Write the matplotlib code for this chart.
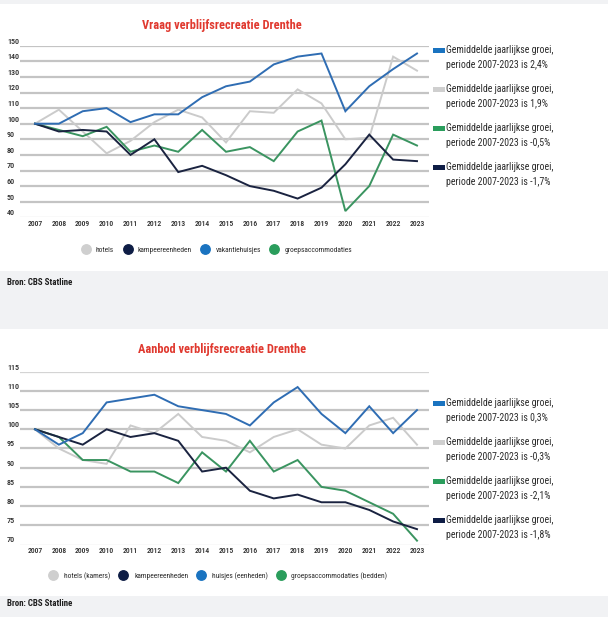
import matplotlib
matplotlib.use("Agg")
import matplotlib.pyplot as plt
from matplotlib.patches import Rectangle
from matplotlib.lines import Line2D
from matplotlib.transforms import ScaledTranslation

plt.rcParams['font.family'] = ['Roboto Condensed', 'Liberation Sans Narrow', 'DejaVu Sans']

# ---------------- data ----------------
years = list(range(2007, 2024))

# Vraag (demand)
vraag_hotels = [100, 109, 95, 81, 89, 101, 109, 104, 88, 108, 107, 122, 113, 90, 91, 143, 134]
vraag_kamp = [100, 95, 96, 95, 80, 90, 69, 73, 67, 60, 57, 52, 59, 74, 93, 77, 76]
vraag_vakantie = [100, 100, 108, 110, 101, 106, 106, 117, 124, 127, 138, 143, 145, 108, 124, 135, 145]
vraag_groep = [100, 96, 92, 98, 82, 86, 82, 96, 82, 85, 76, 95, 102, 44, 60, 93, 86]
vraag_growth = ["2,4%", "1,9%", "-0,5%", "-1,7%"]

# Aanbod (supply)
aanbod_hotels = [100, 95, 92, 91, 101, 99, 104, 98, 97, 94, 98, 100, 96, 95, 101, 103, 96]
aanbod_kamp = [100, 98, 96, 100, 98, 99, 97, 89, 90, 84, 82, 83, 81, 81, 79, 76, 74]
aanbod_huisjes = [100, 96, 99, 107, 108, 109, 106, 105, 104, 101, 107, 111, 104, 99, 106, 99, 105]
aanbod_groep = [100, 98, 92, 92, 89, 89, 86, 94, 89, 97, 89, 92, 85, 84, 81, 78, 71]
aanbod_growth = ["0,3%", "-0,3%", "-2,1%", "-1,8%"]

vraag_names = ["hotels", "kampeereenheden", "vakantiehuisjes", "groepsaccommodaties"]
aanbod_names = ["hotels (kamers)", "kampeereenheden", "huisjes (eenheden)", "groepsaccommodaties (bedden)"]

vraag_ticks = [40, 50, 60, 70, 80, 90, 100, 110, 120, 130, 140, 150]
aanbod_ticks = [70, 75, 80, 85, 90, 95, 100, 105, 110, 115]

# ---------------- style ----------------
C_GRAY = '#cbcbcb'
C_NAVY = '#1a2340'
C_BLUE = '#2f6db3'
C_GREEN = '#3a9460'
M_GRAY = '#cfcfcf'
M_NAVY = '#0e1d45'
M_BLUE = '#1a73c0'
M_GREEN = '#2a9d5c'
TITLE_RED = '#e0392f'
BAND = '#f1f2f4'
GRID = '#c4c4c4'
TXT = '#2b2b2b'

W, H = 608, 617
fig = plt.figure(figsize=(W / 100, H / 100), dpi=100)
fig.patch.set_facecolor('white')


def fx(px):
    return px / W


def fy(py):
    return 1 - py / H


def band(y0, y1):
    fig.add_artist(Rectangle((0, fy(y1)), 1, (y1 - y0) / H, transform=fig.transFigure,
                             facecolor=BAND, edgecolor='none', zorder=0))


band(0, 4)
band(271, 329)
band(596, 617)


def make_panel(top_px, bot_px, ticks, series, title, title_y, growth, legend_y,
               names, bottom_leg_x, bottom_leg_y, colspace, textpad, thin):
    left, right = 20, 429
    ax = fig.add_axes([fx(left), fy(bot_px), fx(right) - fx(left), (bot_px - top_px) / H])
    ax.set_facecolor('none')
    x0 = 2007 - 15 / 23.875
    x1 = 2023 + 12 / 23.875
    ax.set_xlim(x0, x1)
    ax.set_ylim(ticks[0], ticks[-1])
    for s in ax.spines.values():
        s.set_visible(False)
    for v in ticks:
        if v in thin:
            ax.axhline(v, color='#d4d4d4', lw=0.9, zorder=1)
        else:
            ax.axhline(v, color=GRID, lw=1.6, zorder=1)
    for vals, c in series:
        ax.plot(years, vals, color=c, lw=1.4, zorder=3, solid_joinstyle='miter')
    ax.set_yticks(ticks)
    ax.set_yticklabels([str(t) for t in ticks])
    ax.set_xticks(years)
    ax.set_xticklabels([str(y) for y in years])
    ax.tick_params(axis='both', length=0, labelcolor=TXT)
    ax.tick_params(axis='y', pad=9.4, labelsize=5.9)
    ax.tick_params(axis='x', pad=1.8, labelsize=5.5)
    off = ScaledTranslation(0, 5 / 100, fig.dpi_scale_trans)
    for lab in ax.get_yticklabels():
        lab.set_horizontalalignment('left')
        lab.set_transform(lab.get_transform() + off)
    for lab in ax.get_xticklabels() + ax.get_yticklabels():
        lab.set_fontweight('medium')
    fig.text(fx(222), fy(title_y), title, color=TITLE_RED, fontsize=8.9,
             fontweight='bold', ha='center', va='center')
    # right-side legend
    lcols = [M_BLUE, M_GRAY, M_GREEN, M_NAVY]
    for i, (g, c) in enumerate(zip(growth, lcols)):
        y1 = legend_y[i]
        fig.add_artist(Rectangle((fx(433), fy(y1 + 2.5)), fx(12), 4.5 / H, transform=fig.transFigure,
                                 facecolor=c, edgecolor='none'))
        fig.text(fx(446), fy(y1), "Gemiddelde jaarlijkse groei,", fontsize=7.1,
                 color=TXT, ha='left', va='center')
        fig.text(fx(446), fy(y1 + 15), "periode 2007-2023 is " + g, fontsize=7.1,
                 color=TXT, ha='left', va='center')
    # bottom legend
    mcols = [M_GRAY, M_NAVY, M_BLUE, M_GREEN]
    handles = [Line2D([], [], marker='o', linestyle='none', markersize=6.8,
                      markerfacecolor=c, markeredgecolor=c) for c in mcols]
    leg = fig.legend(handles, names, loc='center left',
                     bbox_to_anchor=(fx(bottom_leg_x), fy(bottom_leg_y)),
                     ncol=4, frameon=False, fontsize=5.4, handlelength=0.9,
                     handletextpad=textpad, columnspacing=colspace, borderpad=0,
                     borderaxespad=0)
    for t in leg.get_texts():
        t.set_color(TXT)
    return ax


make_panel(45.7, 217.3, vraag_ticks,
           [(vraag_hotels, C_GRAY), (vraag_groep, C_GREEN), (vraag_kamp, C_NAVY), (vraag_vakantie, C_BLUE)],
           "Vraag verblijfsrecreatie Drenthe", 26, vraag_growth,
           [50, 89, 128, 167], vraag_names, 82.5, 250, 1.35, 0.9, [40])

make_panel(371.7, 544.5, aanbod_ticks,
           [(aanbod_hotels, C_GRAY), (aanbod_groep, C_GREEN), (aanbod_kamp, C_NAVY), (aanbod_huisjes, C_BLUE)],
           "Aanbod verblijfsrecreatie Drenthe", 349, aanbod_growth,
           [403, 442, 481, 520], aanbod_names, 50, 576, 1.25, 1.0, [70, 115])

fig.text(fx(7), fy(282), "Bron: CBS Statline", fontsize=6.4, color='#1e1e1e',
         ha='left', va='center', fontweight='bold')
fig.text(fx(7), fy(604), "Bron: CBS Statline", fontsize=6.4, color='#1e1e1e',
         ha='left', va='center', fontweight='bold')

fig.savefig('out.png', dpi=100, facecolor=fig.get_facecolor())
